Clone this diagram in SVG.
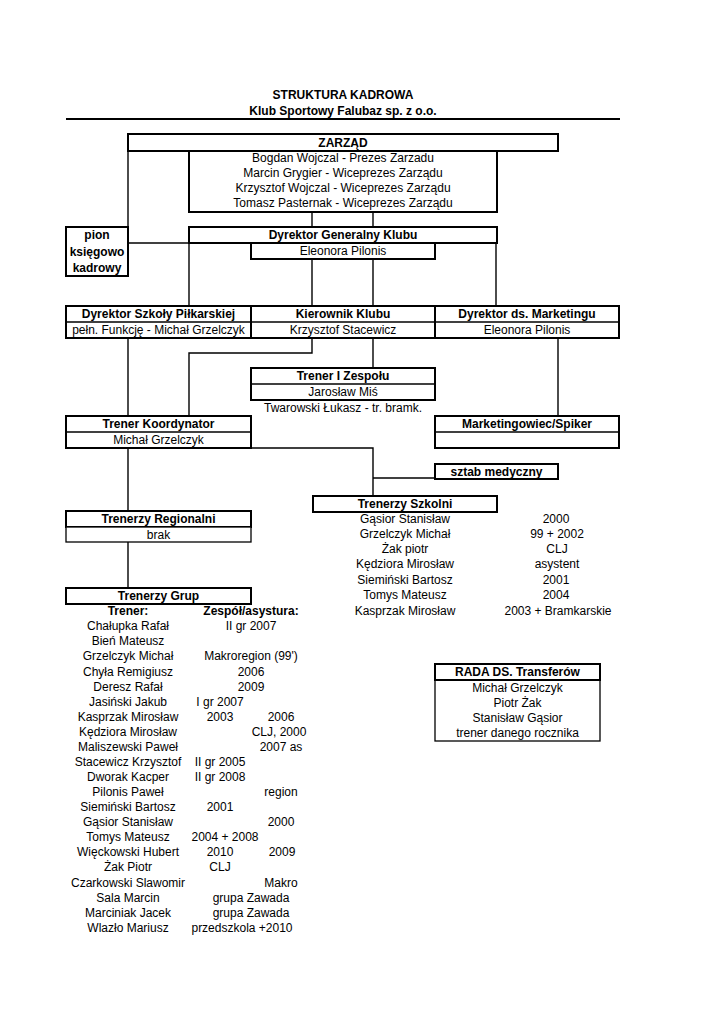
<svg xmlns="http://www.w3.org/2000/svg" width="724" height="1024" viewBox="0 0 724 1024">
<style>
text{font-family:"Liberation Sans",Arial,sans-serif;font-size:12px;fill:#000;text-anchor:middle}
.b{font-weight:bold}
.box{fill:#fff;stroke:#000;stroke-width:2}
.thin{fill:#fff;stroke:#000;stroke-width:1.3}
.sep{stroke:#000;stroke-width:1.5}
.con line,.con polyline{stroke:#000;stroke-width:1.4;fill:none}
</style>
<rect width="724" height="1024" fill="#fff"/>
<g id="title">
<text class="b" x="343" y="99">STRUKTURA KADROWA</text>
<text class="b" x="343" y="115">Klub Sportowy Falubaz sp. z o.o.</text>
<line x1="66" y1="119" x2="620" y2="119" stroke="#000" stroke-width="2"/>
</g>
<g class="con" id="connectors">
<line x1="128" y1="151" x2="128" y2="227"/>
<line x1="128" y1="243" x2="189" y2="243"/>
<line x1="189" y1="243" x2="189" y2="306"/>
<line x1="312" y1="212" x2="312" y2="227"/>
<line x1="373" y1="212" x2="373" y2="227"/>
<line x1="312" y1="259" x2="312" y2="306"/>
<line x1="373" y1="259" x2="373" y2="306"/>
<line x1="496" y1="243" x2="496" y2="306"/>
<line x1="128" y1="338" x2="128" y2="416"/>
<polyline points="312,338 312,353 189,353 189,416"/>
<line x1="373" y1="338" x2="373" y2="368"/>
<line x1="558" y1="338" x2="558" y2="416"/>
<polyline points="251,448 373,448 373,496"/>
<line x1="373" y1="478" x2="435" y2="478"/>
<line x1="128" y1="448" x2="128" y2="511"/>
<line x1="128" y1="542" x2="128" y2="588"/>
</g>
<g id="zarzad">
<rect class="box" x="128" y="134" width="430" height="17"/>
<text class="b" x="343" y="147">ZARZĄD</text>
<rect class="box" x="189" y="151" width="308" height="61"/>
<text x="343" y="162">Bogdan Wojczal - Prezes Zarzadu</text>
<text x="343" y="177">Marcin Grygier - Wiceprezes Zarządu</text>
<text x="343" y="192">Krzysztof Wojczal - Wiceprezes Zarządu</text>
<text x="343" y="207">Tomasz Pasternak - Wiceprezes Zarządu</text>
</g>
<g id="pion">
<rect class="box" x="66" y="227" width="62" height="49"/>
<text class="b" x="97" y="239">pion</text>
<text class="b" x="97" y="256">księgowo</text>
<text class="b" x="97" y="272">kadrowy</text>
</g>
<g id="dyrektor-generalny">
<rect class="box" x="189" y="227" width="308" height="16"/>
<text class="b" x="343" y="239">Dyrektor Generalny Klubu</text>
<rect class="box" x="251" y="243" width="184" height="16"/>
<text x="343" y="255">Eleonora Pilonis</text>
</g>
<g id="dyrektor-szkoly">
<rect class="box" x="66" y="306" width="185" height="32"/>
<line class="sep" x1="66" y1="322" x2="251" y2="322"/>
<text class="b" x="158.5" y="318">Dyrektor Szkoły Piłkarskiej</text>
<text x="158.5" y="334">pełn. Funkcję - Michał Grzelczyk</text>
</g>
<g id="kierownik">
<rect class="box" x="251" y="306" width="184" height="32"/>
<line class="sep" x1="251" y1="322" x2="435" y2="322"/>
<text class="b" x="343" y="318">Kierownik Klubu</text>
<text x="343" y="334">Krzysztof Stacewicz</text>
</g>
<g id="dyrektor-marketing">
<rect class="box" x="435" y="306" width="184" height="32"/>
<line class="sep" x1="435" y1="322" x2="619" y2="322"/>
<text class="b" x="527" y="318">Dyrektor ds. Marketingu</text>
<text x="527" y="334">Eleonora Pilonis</text>
</g>
<g id="trener-zespolu">
<rect class="box" x="251" y="368" width="184" height="32"/>
<line class="sep" x1="251" y1="384" x2="435" y2="384"/>
<text class="b" x="343" y="380">Trener I Zespołu</text>
<text x="343" y="396">Jarosław Miś</text>
<text x="343" y="412">Twarowski Łukasz - tr. bramk.</text>
</g>
<g id="trener-koordynator">
<rect class="box" x="66" y="416" width="185" height="32"/>
<line class="sep" x1="66" y1="432" x2="251" y2="432"/>
<text class="b" x="158.5" y="428">Trener Koordynator</text>
<text x="158.5" y="444">Michał Grzelczyk</text>
</g>
<g id="marketingowiec">
<rect class="box" x="435" y="416" width="184" height="32"/>
<line class="sep" x1="435" y1="432" x2="619" y2="432"/>
<text class="b" x="527" y="428">Marketingowiec/Spiker</text>
</g>
<g id="sztab">
<rect class="box" x="435" y="464" width="123" height="15"/>
<text class="b" x="496.5" y="476">sztab medyczny</text>
</g>
<g id="trenerzy-szkolni">
<rect class="box" x="313" y="496" width="184" height="16"/>
<text class="b" x="405" y="508">Trenerzy Szkolni</text>
<text x="405" y="523">Gąsior Stanisław</text>
<text x="405" y="538">Grzelczyk Michał</text>
<text x="405" y="553">Żak piotr</text>
<text x="405" y="568">Kędziora Mirosław</text>
<text x="405" y="584">Siemiński Bartosz</text>
<text x="405" y="599">Tomys Mateusz</text>
<text x="405" y="615">Kasprzak Mirosław</text>
<text x="556" y="523">2000</text>
<text x="557" y="538">99 + 2002</text>
<text x="557" y="553">CLJ</text>
<text x="557" y="568">asystent</text>
<text x="556" y="584">2001</text>
<text x="556" y="599">2004</text>
<text x="558" y="615">2003 + Bramkarskie</text>
</g>
<g id="trenerzy-regionalni">
<rect class="box" x="66" y="511" width="185" height="16"/>
<text class="b" x="158.5" y="523">Trenerzy Regionalni</text>
<rect class="thin" x="66" y="527" width="185" height="15"/>
<text x="158.5" y="539">brak</text>
</g>
<g id="trenerzy-grup">
<rect class="box" x="66" y="588" width="185" height="16"/>
<text class="b" x="158.5" y="600">Trenerzy Grup</text>
<text class="b" x="128" y="615">Trener:</text>
<text class="b" x="251" y="615">Zespół/asystura:</text>
<text x="128" y="630">Chałupka Rafał</text>
<text x="128" y="645">Bień Mateusz</text>
<text x="128" y="660">Grzelczyk Michał</text>
<text x="128" y="676">Chyła Remigiusz</text>
<text x="128" y="691">Deresz Rafał</text>
<text x="128" y="706">Jasiński Jakub</text>
<text x="128" y="721">Kasprzak Mirosław</text>
<text x="128" y="736">Kędziora Mirosław</text>
<text x="128" y="751">Maliszewski Paweł</text>
<text x="128" y="766">Stacewicz Krzysztof</text>
<text x="128" y="781">Dworak Kacper</text>
<text x="128" y="796">Pilonis Paweł</text>
<text x="128" y="811">Siemiński Bartosz</text>
<text x="128" y="826">Gąsior Stanisław</text>
<text x="128" y="841">Tomys Mateusz</text>
<text x="128" y="856">Więckowski Hubert</text>
<text x="128" y="871">Żak Piotr</text>
<text x="128" y="887">Czarkowski Slawomir</text>
<text x="128" y="902">Sala Marcin</text>
<text x="128" y="917">Marciniak Jacek</text>
<text x="128" y="932">Wlazło Mariusz</text>
<text x="251" y="630">II gr 2007</text>
<text x="251" y="660">Makroregion (99')</text>
<text x="251" y="676">2006</text>
<text x="251" y="691">2009</text>
<text x="220" y="706">I gr 2007</text>
<text x="220" y="721">2003</text>
<text x="281" y="721">2006</text>
<text x="279" y="736">CLJ, 2000</text>
<text x="281" y="751">2007 as</text>
<text x="220" y="766">II gr 2005</text>
<text x="220" y="781">II gr 2008</text>
<text x="281" y="796">region</text>
<text x="220" y="811">2001</text>
<text x="281" y="826">2000</text>
<text x="225" y="841">2004 + 2008</text>
<text x="220" y="856">2010</text>
<text x="282" y="856">2009</text>
<text x="220" y="871">CLJ</text>
<text x="281" y="887">Makro</text>
<text x="251" y="902">grupa Zawada</text>
<text x="251" y="917">grupa Zawada</text>
<text x="242" y="932">przedszkola +2010</text>
</g>
<g id="rada-transferow">
<rect class="thin" x="435" y="680" width="165" height="61"/>
<rect class="box" x="435" y="664" width="165" height="16"/>
<text class="b" x="517.5" y="676">RADA DS. Transferów</text>
<text x="517.5" y="692">Michał Grzelczyk</text>
<text x="517.5" y="707">Piotr Żak</text>
<text x="517.5" y="722">Stanisław Gąsior</text>
<text x="517.5" y="737">trener danego rocznika</text>
</g>
</svg>
